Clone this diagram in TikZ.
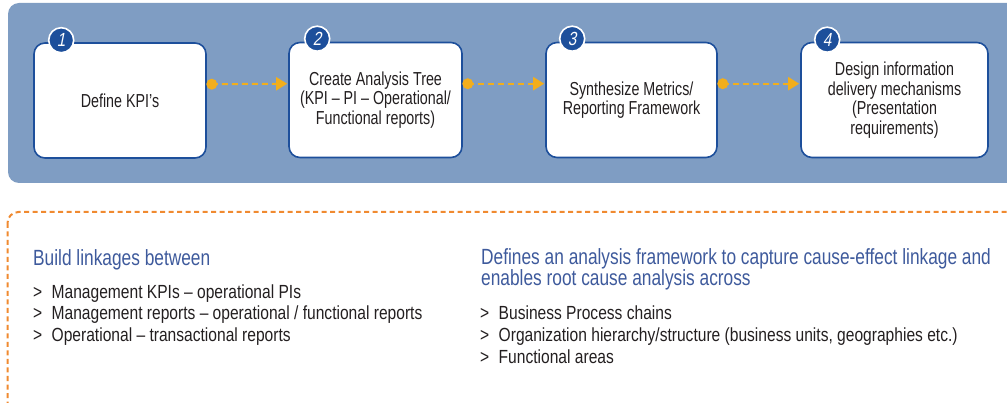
\documentclass[tikz,border=0pt]{standalone}
\usepackage{fontspec}
\setmainfont{Liberation Sans}
\newfontfamily\boxfont{Liberation Sans}[FakeStretch=0.76]
\newfontfamily\headfont{Liberation Sans}[FakeStretch=0.787]
\newfontfamily\listfont{Liberation Sans}[FakeStretch=0.82]
\newfontfamily\numfont{Liberation Sans}[FakeStretch=0.8,FakeSlant=0.2]
\usetikzlibrary{arrows.meta}
\definecolor{panelblue}{HTML}{7F9DC3}
\definecolor{boxblue}{HTML}{1D4F9B}
\definecolor{arrowgold}{HTML}{F2AE1C}
\definecolor{dashorange}{HTML}{F08A30}
\definecolor{headblue}{HTML}{3E5A9C}
\definecolor{textdark}{HTML}{231F20}
\tikzset{
  stepbox/.style={draw=boxblue, line width=1.6pt, fill=white, rounded corners=11pt,
    minimum height=115pt, inner sep=0pt, align=center, text=textdark,
    font=\boxfont\fontsize{18.8}{19.5}\selectfont},
  numcircle/.style={circle, draw=white, line width=1.6pt, fill=boxblue, minimum size=25pt,
    inner sep=0pt, text=white, font=\numfont\fontsize{19}{19}\selectfont},
  golddot/.style={circle, fill=arrowgold, minimum size=11pt, inner sep=0pt},
  conn/.style={draw=arrowgold, line width=2pt, dash pattern=on 6pt off 4pt,
    -{Triangle[length=11pt,width=13pt,fill=arrowgold]}},
  headtext/.style={anchor=base west, inner sep=0pt, text=headblue, align=left,
    font=\headfont\fontsize{22}{20}\selectfont},
  listtext/.style={anchor=base west, inner sep=0pt, text=textdark, align=left,
    font=\listfont\fontsize{19}{21.7}\selectfont}
}
\newcommand{\gt}{\makebox[18.5pt][l]{>}}
\begin{document}
\begin{tikzpicture}[x=1pt,y=-1pt]
\clip (0,0) rectangle (1007,403);
% top panel
\fill[panelblue, rounded corners=11pt] (8,3) rectangle (1030,183);
% bottom dashed frame
\draw[dashorange, line width=2pt, dash pattern=on 5pt off 3.5pt, rounded corners=11pt]
  (7.5,212) rectangle (1030,420);

% step boxes
\node[stepbox, minimum width=172pt] (b1) at (120,100.5) {Define KPI’s};
\node[stepbox, minimum width=173pt] (b2) at (375.5,100) {Create Analysis Tree\\(KPI – PI – Operational/\\Functional reports)};
\node[stepbox, minimum width=171pt] (b3) at (631.5,100) {Synthesize Metrics/\\Reporting Framework};
\node[stepbox, minimum width=187pt] (b4) at (894.5,100) {Design information\\delivery mechanisms\\(Presentation\\requirements)};

% number circles
\node[numcircle] (n1) at ([xshift=28pt,yshift=2pt]b1.north west) {1};
\node[numcircle] (n2) at ([xshift=29pt,yshift=3pt]b2.north west) {2};
\node[numcircle] (n3) at ([xshift=27pt,yshift=3pt]b3.north west) {3};
\node[numcircle] (n4) at ([xshift=27pt,yshift=2pt]b4.north west) {4};

% connectors
\node[golddot] (d1) at ([xshift=5pt,yshift=-42pt]b1.north east) {};
\node[golddot] (d2) at ([xshift=5pt,yshift=-42pt]b2.north east) {};
\node[golddot] (d3) at ([xshift=5pt,yshift=-42pt]b3.north east) {};
\coordinate (t2) at ([xshift=-1pt,yshift=-42pt]b2.north west);
\coordinate (t3) at ([xshift=-1pt,yshift=-42pt]b3.north west);
\coordinate (t4) at ([xshift=-1pt,yshift=-42pt]b4.north west);
\draw[conn] (d1.center) -- (t2);
\draw[conn] (d2.center) -- (t3);
\draw[conn] (d3.center) -- (t4);

% bottom texts (base = baseline of last line)
\node[headtext] (h1) at (33,266) {Build linkages between};
\node[listtext] (l1) at (33,341.5) {\gt Management KPIs – operational PIs\\
\gt Management reports – operational / functional reports\\
\gt Operational – transactional reports};
\node[headtext] (h2) at (481,286) {Defines an analysis framework to capture cause-effect linkage and\\enables root cause analysis across};
\node[listtext] (l2) at (480,363) {\gt Business Process chains\\
\gt Organization hierarchy/structure (business units, geographies etc.)\\
\gt Functional areas};
\end{tikzpicture}
\end{document}
